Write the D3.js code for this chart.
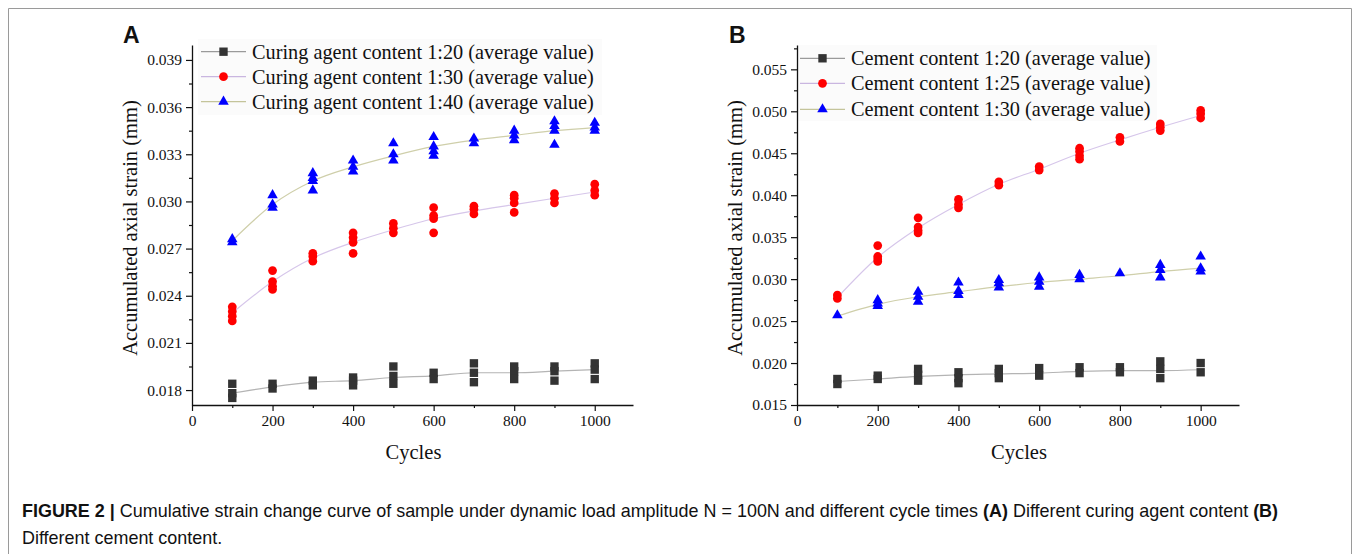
<!DOCTYPE html>
<html>
<head>
<meta charset="utf-8">
<script src="https://cdn.jsdelivr.net/npm/d3@7"></script>
<style>
  body { margin: 0; background: #fff; }
  svg text { font-family: "Liberation Serif", "Times New Roman", serif; fill: #111; }
</style>
</head>
<body>
<div id="chart"></div>
<script>
// cycles at which strain was measured
const cycles = [100, 200, 300, 400, 500, 600, 700, 800, 900, 1000];
const xTickValues = [0, 200, 400, 600, 800, 1000];
const xMinorValues = [100, 300, 500, 700, 900];

// panel A y ticks
const yTicksA = [0.018, 0.021, 0.024, 0.027, 0.030, 0.033, 0.036, 0.039];
const yMinorA = [0.0195, 0.0225, 0.0255, 0.0285, 0.0315, 0.0345, 0.0375];
// panel B y ticks
const yTicksB = [0.015, 0.020, 0.025, 0.030, 0.035, 0.040, 0.045, 0.050, 0.055];
const yMinorB = [0.0175, 0.0225, 0.0275, 0.0325, 0.0375, 0.0425, 0.0475, 0.0525, 0.0575];

const legendA = [
  "Curing agent content 1:20 (average value)",
  "Curing agent content 1:30 (average value)",
  "Curing agent content 1:40 (average value)"
];
const legendB = [
  "Cement content 1:20 (average value)",
  "Cement content 1:25 (average value)",
  "Cement content 1:30 (average value)"
];

// Panel A - replicate readings per cycle, and average curve
const a20Points = [
  [0.0184, 0.0178, 0.0175], [0.0184, 0.0181], [0.0186, 0.0183], [0.0188, 0.0186, 0.0183],
  [0.0195, 0.0189, 0.0184], [0.0191, 0.0187], [0.0197, 0.0191, 0.0185], [0.0195, 0.0192, 0.0187],
  [0.0195, 0.0192, 0.0186], [0.0197, 0.0193, 0.0187]
];
const a20Avg = [0.0178, 0.0182, 0.0185, 0.0186, 0.0188, 0.0189, 0.0191, 0.0191, 0.0192, 0.0193];

const a30Points = [
  [0.0233, 0.0230, 0.0227, 0.0224], [0.0256, 0.0249, 0.0246, 0.0244], [0.0267, 0.0265, 0.0262],
  [0.0280, 0.0277, 0.0274, 0.0267], [0.0286, 0.0283, 0.0280], [0.0296, 0.0291, 0.0289, 0.0280],
  [0.0297, 0.0295, 0.0292], [0.0304, 0.0302, 0.0299, 0.0293], [0.0305, 0.0302, 0.0299],
  [0.0311, 0.0307, 0.0304]
];
const a30Avg = [0.0229, 0.0249, 0.0264, 0.0274, 0.0282, 0.0289, 0.0294, 0.0298, 0.0302, 0.0306];

const a40Points = [
  [0.0276, 0.0274], [0.0304, 0.0298, 0.0296], [0.0318, 0.0315, 0.0313, 0.0307],
  [0.0326, 0.0322, 0.0319], [0.0337, 0.0330, 0.0326], [0.0341, 0.0335, 0.0332, 0.0329],
  [0.0340, 0.0337], [0.0345, 0.0342, 0.0339], [0.0351, 0.0348, 0.0345, 0.0336],
  [0.0350, 0.0347, 0.0345]
];
const a40Avg = [0.0275, 0.0298, 0.0313, 0.0322, 0.0329, 0.0335, 0.0339, 0.0342, 0.0345, 0.0347];

// Panel B
const b20Points = [
  [0.0181, 0.0175], [0.0185, 0.0181], [0.0193, 0.0186, 0.0179], [0.0189, 0.0182, 0.0176],
  [0.0193, 0.0188, 0.0182], [0.0194, 0.0185], [0.0195, 0.0188], [0.0195, 0.0189],
  [0.0202, 0.0193, 0.0182], [0.0200, 0.0189]
];
const b20Avg = [0.0178, 0.0181, 0.0184, 0.0186, 0.0187, 0.0188, 0.0190, 0.0191, 0.0191, 0.0192];

const b25Points = [
  [0.0281, 0.0277], [0.0340, 0.0327, 0.0324, 0.0321], [0.0373, 0.0362, 0.0358, 0.0355],
  [0.0395, 0.0389, 0.0385], [0.0416, 0.0412], [0.0434, 0.0430], [0.0456, 0.0452, 0.0447, 0.0443],
  [0.0469, 0.0464], [0.0485, 0.0481, 0.0477], [0.0501, 0.0497, 0.0492]
];
const b25Avg = [0.0278, 0.0326, 0.0361, 0.0389, 0.0413, 0.0431, 0.0450, 0.0466, 0.0481, 0.0495];

const b30Points = [
  [0.0257], [0.0275, 0.0271, 0.0268], [0.0285, 0.0279, 0.0273], [0.0296, 0.0286, 0.0281],
  [0.0299, 0.0295, 0.0290], [0.0302, 0.0297, 0.0291], [0.0305, 0.0300], [0.0307],
  [0.0317, 0.0311, 0.0302], [0.0327, 0.0313, 0.0309]
];
const b30Avg = [0.0256, 0.0270, 0.0279, 0.0285, 0.0291, 0.0296, 0.0300, 0.0304, 0.0309, 0.0313];

// marker + curve styles for the three series (same in both panels)
const seriesStyle = [
  { symbol: d3.symbolSquare, size: 70, fill: "#333333", line: "#b4b4b4", legendLine: "#9a9a9a" },
  { symbol: d3.symbolCircle, size: 60, fill: "#ff0000", line: "#d6c6ea", legendLine: "#c9b6e0" },
  { symbol: d3.symbolTriangle, size: 48, fill: "#0000ff", line: "#cfcfaa", legendLine: "#c4c49a" }
];

const svg = d3.select("#chart").append("svg")
  .attr("width", 1356)
  .attr("height", 554);

svg.append("rect").attr("width", 1356).attr("height", 554).attr("fill", "#fff");

// figure frame (top, left, right)
svg.append("path")
  .attr("d", "M8.5,554 V8.5 H1351.5 V554")
  .attr("fill", "none")
  .attr("stroke", "#9a9a9a")
  .attr("stroke-width", 1);

function drawPanel(opts) {
  const g = svg.append("g");
  const x = d3.scaleLinear().domain([0, 1095]).range(opts.xRange);
  const y = d3.scaleLinear().domain(opts.yDomain).range([405, 45]);

  // legend background
  g.append("rect")
    .attr("x", opts.legend.x).attr("y", opts.legend.y)
    .attr("width", opts.legend.w).attr("height", opts.legend.h)
    .attr("fill", "#fbfbfb");

  // average curves
  const line = d3.line()
    .x((d, i) => x(cycles[i]))
    .y(d => y(d))
    .curve(d3.curveMonotoneX);

  opts.avgs.forEach((avg, s) => {
    g.append("path")
      .attr("d", line(avg))
      .attr("fill", "none")
      .attr("stroke", seriesStyle[s].line)
      .attr("stroke-width", 1.2);
  });

  // replicate points
  opts.points.forEach((pts, s) => {
    const st = seriesStyle[s];
    const flat = pts.flatMap((vals, i) => vals.map(v => ({ c: cycles[i], v })));
    g.append("g").selectAll("path")
      .data(flat)
      .join("path")
      .attr("transform", d => `translate(${x(d.c)},${y(d.v)})`)
      .attr("d", d3.symbol().type(st.symbol).size(st.size))
      .attr("fill", st.fill);
  });

  // axes
  const xAxis = g.append("g")
    .attr("transform", "translate(0,405)")
    .call(d3.axisBottom(x).tickValues(xTickValues).tickSize(6).tickSizeOuter(0).tickPadding(4)
      .tickFormat(d3.format("d")));
  g.append("g")
    .attr("transform", "translate(0,405)")
    .call(d3.axisBottom(x).tickValues(xMinorValues).tickSize(3).tickFormat(""))
    .call(a => a.select(".domain").remove());

  const yAxis = g.append("g")
    .attr("transform", `translate(${opts.xRange[0]},0)`)
    .call(d3.axisLeft(y).tickValues(opts.yTicks).tickSize(6).tickSizeOuter(0).tickPadding(4)
      .tickFormat(d3.format(".3f")));
  g.append("g")
    .attr("transform", `translate(${opts.xRange[0]},0)`)
    .call(d3.axisLeft(y).tickValues(opts.yMinor).tickSize(3).tickFormat(""))
    .call(a => a.select(".domain").remove());

  [xAxis, yAxis].forEach(a => {
    a.selectAll("text")
      .style("font-family", '"Liberation Serif", serif')
      .style("font-size", "15.5px")
      .attr("fill", "#222");
    a.select(".domain").attr("stroke", "#111").attr("stroke-width", 1.3);
  });
  g.selectAll(".tick line").attr("stroke", "#111").attr("stroke-width", 1.2);

  // axis titles
  g.append("text")
    .attr("transform", `translate(${opts.xRange[0] - 55},${228}) rotate(-90)`)
    .attr("text-anchor", "middle")
    .style("font-size", "20.5px")
    .text("Accumulated axial strain (mm)");

  g.append("text")
    .attr("x", x(550))
    .attr("y", 459)
    .attr("text-anchor", "middle")
    .style("font-size", "20.5px")
    .text("Cycles");

  // panel letter
  g.append("text")
    .attr("x", opts.letterX)
    .attr("y", 43)
    .style("font-family", '"Liberation Sans", Arial, sans-serif')
    .style("font-weight", "bold")
    .style("font-size", "23px")
    .attr("fill", "#000")
    .text(opts.letter);

  // legend
  opts.labels.forEach((lab, i) => {
    const st = seriesStyle[i];
    const cy = opts.legend.rowY[i];
    const lx = opts.legend.x + 3;
    g.append("line")
      .attr("x1", lx).attr("x2", lx + 45)
      .attr("y1", cy).attr("y2", cy)
      .attr("stroke", st.legendLine)
      .attr("stroke-width", 1.3);
    g.append("path")
      .attr("transform", `translate(${lx + 22.5},${cy})`)
      .attr("d", d3.symbol().type(st.symbol).size(st.size))
      .attr("fill", st.fill);
    g.append("text")
      .attr("x", lx + 51)
      .attr("y", cy + 7)
      .style("font-size", "20.3px")
      .text(lab);
  });
}

drawPanel({
  letter: "A", letterX: 123,
  xRange: [192, 633],
  yDomain: [0.01705, 0.03995],
  yTicks: yTicksA, yMinor: yMinorA,
  points: [a20Points, a30Points, a40Points],
  avgs: [a20Avg, a30Avg, a40Avg],
  labels: legendA,
  legend: { x: 198, y: 39, w: 404, h: 76, rowY: [51.7, 76.7, 101.7] }
});

drawPanel({
  letter: "B", letterX: 729,
  xRange: [797, 1239],
  yDomain: [0.015, 0.0579],
  yTicks: yTicksB, yMinor: yMinorB,
  points: [b20Points, b25Points, b30Points],
  avgs: [b20Avg, b25Avg, b30Avg],
  labels: legendB,
  legend: { x: 797, y: 45, w: 360, h: 76, rowY: [58.3, 83.3, 109.3] }
});

// caption
const cap1 = svg.append("text")
  .attr("x", 22).attr("y", 517)
  .style("font-family", '"Liberation Sans", Arial, sans-serif')
  .style("font-size", "18px")
  .attr("fill", "#222");
cap1.append("tspan").style("font-weight", "bold").text("FIGURE 2 | ");
cap1.append("tspan").text("Cumulative strain change curve of sample under dynamic load amplitude N = 100N and different cycle times ");
cap1.append("tspan").style("font-weight", "bold").text("(A)");
cap1.append("tspan").text(" Different curing agent content ");
cap1.append("tspan").style("font-weight", "bold").text("(B)");

const cap2 = svg.append("text")
  .attr("x", 22).attr("y", 544)
  .style("font-family", '"Liberation Sans", Arial, sans-serif')
  .style("font-size", "18px")
  .attr("fill", "#222")
  .text("Different cement content.");

// the printed caption uses a condensed face; squeeze to the same line width
const natural = cap1.node().getComputedTextLength();
const sx = (1279 - 22) / natural;
cap1.attr("transform", `translate(22,0) scale(${sx},1) translate(-22,0)`);
cap2.attr("transform", `translate(22,0) scale(${sx},1) translate(-22,0)`);
</script>
</body>
</html>
